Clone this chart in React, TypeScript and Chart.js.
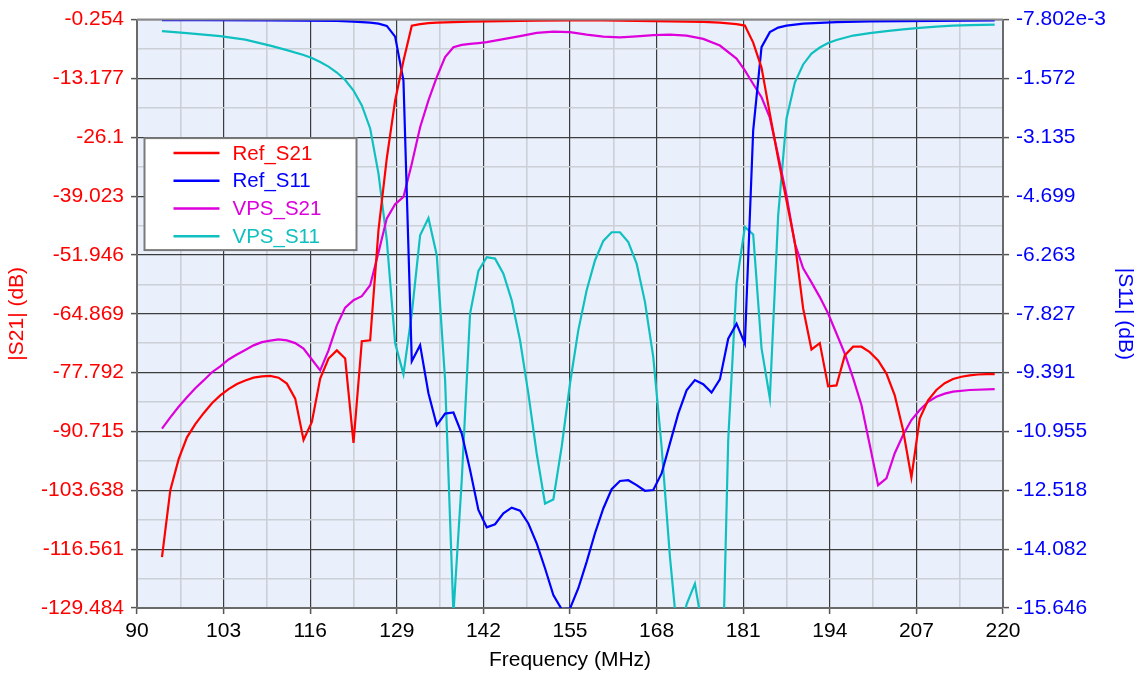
import React, { useEffect, useRef } from 'react';
import { Chart, registerables } from 'chart.js';

Chart.register(...registerables);

// ---------- tick labels ----------
const xTickLabels = ['90', '103', '116', '129', '142', '155', '168', '181', '194', '207', '220'];
const leftTickLabels = ['-0.254', '-13.177', '-26.1', '-39.023', '-51.946', '-64.869', '-77.792', '-90.715', '-103.638', '-116.561', '-129.484'];
const rightTickLabels = ['-7.802e-3', '-1.572', '-3.135', '-4.699', '-6.263', '-7.827', '-9.391', '-10.955', '-12.518', '-14.082', '-15.646'];

const seriesNames = ['Ref_S21', 'Ref_S11', 'VPS_S21', 'VPS_S11'];

// ---------- Ref_S21 (left axis, dB) ----------
const refS21Freq = [93.75, 95, 96.25, 97.5, 98.75, 100, 101.25, 102.5, 103.75, 105, 106.25, 107.5, 108.75, 110, 111.25, 112.5, 113.75, 115, 116.25, 117.5, 118.75, 120, 121.25, 122.5, 123.75, 125, 126.25, 127.5, 128.75, 130, 131.25, 132.5, 133.75, 135, 137.5, 140, 145, 150, 155, 160, 165, 170, 175, 177.5, 180, 181.25, 182.5, 183.75, 185, 186.25, 187.5, 188.75, 190, 191.25, 192.5, 193.75, 195, 196.25, 197.5, 198.75, 200, 201.25, 202.5, 203.75, 205, 206.25, 207.5, 208.75, 210, 211.25, 212.5, 213.75, 215, 216.25, 217.5, 218.75];
const refS21Db = [-118.3, -103.6, -96.8, -92.0, -89.1, -86.7, -84.5, -82.8, -81.4, -80.3, -79.5, -78.9, -78.6, -78.5, -78.9, -80.2, -83.5, -92.6, -88.6, -79.1, -74.7, -72.9, -74.7, -93.2, -70.9, -70.7, -46.5, -30.7, -18.0, -9.3, -1.6, -1.24, -1.02, -0.91, -0.8, -0.69, -0.58, -0.47, -0.43, -0.45, -0.52, -0.63, -0.76, -0.91, -1.24, -1.57, -5.3, -10.8, -20.9, -30.8, -40.0, -49.2, -63.7, -72.7, -71.3, -80.8, -80.6, -74.0, -72.1, -72.1, -73.3, -75.1, -78.0, -82.8, -90.4, -100.8, -87.9, -83.85, -81.6, -80.1, -79.2, -78.7, -78.4, -78.2, -78.1, -78.1];

// ---------- Ref_S11 (right axis, dB) ----------
const refS11Freq = [93.75, 100, 110, 120, 122.5, 125, 126.25, 127.5, 128.75, 130, 131.25, 132.5, 133.75, 135, 136.25, 137.5, 138.75, 140, 141.25, 142.5, 143.75, 145, 146.25, 147.5, 148.75, 150, 151.25, 152.5, 153.75, 155, 156.25, 157.5, 158.75, 160, 161.25, 162.5, 163.75, 165, 166.25, 167.5, 168.75, 170, 171.25, 172.5, 173.75, 175, 176.25, 177.5, 178.75, 180, 181.25, 182.5, 183.75, 185, 186.25, 187.5, 190, 195, 200, 210, 218.75];
const refS11Db = [-0.021, -0.024, -0.029, -0.042, -0.061, -0.088, -0.114, -0.175, -0.46, -1.63, -9.09, -8.66, -9.94, -10.79, -10.48, -10.45, -11.01, -11.98, -13.04, -13.50, -13.42, -13.13, -12.98, -13.06, -13.40, -13.93, -14.59, -15.30, -15.68, -15.66, -15.12, -14.42, -13.66, -13.00, -12.49, -12.27, -12.25, -12.38, -12.53, -12.51, -12.07, -11.27, -10.48, -9.86, -9.59, -9.70, -9.92, -9.57, -8.49, -8.09, -8.62, -2.95, -0.74, -0.34, -0.22, -0.17, -0.114, -0.074, -0.056, -0.040, -0.029];

// ---------- VPS_S21 (left axis, dB) ----------
const vpsS21Freq = [93.75, 95, 96.25, 97.5, 98.75, 100, 101.25, 102.5, 103.75, 105, 106.25, 107.5, 108.75, 110, 111.25, 112.5, 113.75, 115, 116.25, 117.5, 118.75, 120, 121.25, 122.5, 123.75, 125, 126.25, 127.5, 128.75, 130, 131.25, 132.5, 133.75, 135, 136.25, 137.5, 138.75, 140, 141.25, 142.5, 145, 147.5, 150, 152.5, 155, 157.5, 160, 162.5, 165, 167.5, 170, 172.5, 175, 177.5, 180, 181.25, 182.5, 183.75, 185, 186.25, 187.5, 188.75, 190, 191.25, 192.5, 193.75, 195, 196.25, 197.5, 198.75, 200, 201.25, 202.5, 203.75, 205, 206.25, 207.5, 208.75, 210, 211.25, 212.5, 215, 218.75];
const vpsS21Db = [-90.1, -87.6, -85.3, -83.2, -81.2, -79.5, -77.7, -76.4, -74.9, -73.8, -72.8, -71.8, -71.1, -70.75, -70.5, -70.7, -71.3, -72.5, -74.9, -77.3, -72.9, -67.4, -63.5, -61.9, -61.0, -58.6, -51.4, -43.9, -40.8, -39.2, -31.9, -23.9, -18.0, -12.9, -8.5, -6.33, -5.8, -5.6, -5.41, -5.19, -4.53, -3.87, -3.17, -2.89, -3.0, -3.55, -3.98, -4.14, -3.92, -3.65, -3.55, -3.77, -4.49, -5.96, -8.81, -11.4, -14.4, -17.3, -21.8, -30.1, -38.9, -49.4, -54.9, -57.96, -61.2, -64.8, -69.2, -73.6, -79.0, -84.9, -93.7, -102.5, -101.0, -95.5, -91.5, -88.2, -86.0, -84.2, -83.1, -82.4, -81.98, -81.6, -81.4];

// ---------- VPS_S11 (right axis, dB) ----------
const vpsS11Freq = [93.75, 97.5, 102.5, 106.25, 110, 112.5, 115, 116.25, 117.5, 118.75, 120, 121.25, 122.5, 123.75, 125, 126.25, 127.5, 128.75, 130, 131.25, 132.5, 133.75, 135, 136.25, 137.5, 138.75, 140, 141.25, 142.5, 143.75, 145, 146.25, 147.5, 148.75, 150, 151.25, 152.5, 153.75, 155, 156.25, 157.5, 158.75, 160, 161.25, 162.5, 163.75, 165, 166.25, 167.5, 168.75, 170, 171.25, 172.5, 173.75, 175, 176.25, 177.5, 178.75, 180, 181.25, 182.5, 183.75, 185, 186.25, 187.5, 188.75, 190, 191.25, 192.5, 193.75, 195, 197.5, 200, 202.5, 205, 207.5, 210, 212.5, 215, 218.75];
const vpsS11Db = [-0.313, -0.366, -0.446, -0.539, -0.698, -0.818, -0.950, -1.03, -1.136, -1.256, -1.415, -1.614, -1.893, -2.29, -2.90, -4.10, -5.87, -8.61, -9.43, -7.82, -5.74, -5.28, -6.27, -9.59, -15.8, -12.25, -7.82, -6.69, -6.32, -6.36, -6.76, -7.47, -8.53, -9.95, -11.54, -12.87, -12.76, -11.36, -9.68, -8.26, -7.20, -6.41, -5.89, -5.66, -5.66, -5.92, -6.49, -7.51, -8.98, -11.36, -14.28, -16.6, -15.55, -15.0, -16.3, -19.0, -20.3, -11.18, -7.02, -5.52, -5.72, -8.74, -10.07, -5.21, -2.64, -1.68, -1.20, -0.91, -0.75, -0.63, -0.55, -0.432, -0.366, -0.313, -0.268, -0.226, -0.194, -0.167, -0.154, -0.140];

// ---------- styling ----------
const FONT = "'Liberation Sans', Arial, Helvetica, sans-serif";
const COLORS = ['#FF0000', '#0000FF', '#DD00DD', '#10C0C0'];
const MAJOR_GRID = '#3c3c3c';
const MINOR_GRID = '#cbcfd6';
const PLOT_BG = '#EAF0FB';

const majorMinor = (labels: string[]) => {
  const major = labels.map((s) => parseFloat(s));
  const out: number[] = [];
  for (let i = 0; i < major.length; i++) {
    out.push(major[i]);
    if (i < major.length - 1) out.push((major[i] + major[i + 1]) / 2);
  }
  return out;
};

const toPoints = (xs: number[], ys: number[]) => xs.map((x, i) => ({ x, y: ys[i] }));

export default function App() {
  const ref = useRef<HTMLCanvasElement | null>(null);

  useEffect(() => {
    if (!ref.current) return;
    const xVals = majorMinor(xTickLabels);
    const lVals = majorMinor(leftTickLabels);
    const rVals = majorMinor(rightTickLabels);

    const gridOpts = (onArea: boolean) => ({
      drawOnChartArea: onArea,
      color: (c: any) => (c.index % 2 === 0 ? MAJOR_GRID : MINOR_GRID),
      lineWidth: (c: any) => (c.index % 2 === 0 ? 1.2 : 1.6),
      tickColor: (c: any) => (c.index % 2 === 0 ? '#555555' : 'rgba(0,0,0,0)'),
      tickLength: 6,
      tickWidth: 1.5,
    });

    const bgPlugin = {
      id: 'plotBg',
      beforeDraw(chart: any) {
        const { ctx, chartArea: a } = chart;
        ctx.save();
        ctx.fillStyle = '#ffffff';
        ctx.fillRect(0, 0, chart.width, chart.height);
        ctx.fillStyle = PLOT_BG;
        ctx.fillRect(a.left, a.top, a.right - a.left, a.bottom - a.top);
        ctx.restore();
      },
      afterDatasetsDraw(chart: any) {
        const { ctx, chartArea: a } = chart;
        ctx.save();
        // top border
        ctx.strokeStyle = '#8a8a8a';
        ctx.lineWidth = 2;
        ctx.beginPath();
        ctx.moveTo(a.left, a.top);
        ctx.lineTo(a.right, a.top);
        ctx.stroke();
        // legend box
        const bx = a.left + 7.5;
        const by = a.top + 118.5;
        const bw = 212;
        const bh = 112;
        ctx.fillStyle = '#ffffff';
        ctx.fillRect(bx, by, bw, bh);
        ctx.strokeStyle = '#7a7a7a';
        ctx.lineWidth = 2;
        ctx.strokeRect(bx, by, bw, bh);
        ctx.font = `20.5px ${FONT}`;
        ctx.textBaseline = 'middle';
        ctx.textAlign = 'left';
        chart.data.datasets.forEach((ds: any, i: number) => {
          const y = by + 15 + i * 27.7;
          ctx.strokeStyle = ds.borderColor;
          ctx.lineWidth = 2.5;
          ctx.beginPath();
          ctx.moveTo(bx + 29, y);
          ctx.lineTo(bx + 75, y);
          ctx.stroke();
          ctx.fillStyle = ds.borderColor;
          ctx.fillText(ds.label, bx + 88, y + 1);
        });
        ctx.restore();
      },
    };

    const tickFont = { family: FONT, size: 21 };

    const chart = new Chart(ref.current, {
      type: 'line',
      data: {
        datasets: [
          { label: seriesNames[0], data: toPoints(refS21Freq, refS21Db), yAxisID: 'y', borderColor: COLORS[0], backgroundColor: COLORS[0] },
          { label: seriesNames[1], data: toPoints(refS11Freq, refS11Db), yAxisID: 'y1', borderColor: COLORS[1], backgroundColor: COLORS[1] },
          { label: seriesNames[2], data: toPoints(vpsS21Freq, vpsS21Db), yAxisID: 'y', borderColor: COLORS[2], backgroundColor: COLORS[2] },
          { label: seriesNames[3], data: toPoints(vpsS11Freq, vpsS11Db), yAxisID: 'y1', borderColor: COLORS[3], backgroundColor: COLORS[3] },
        ],
      },
      options: {
        responsive: false,
        animation: false,
        devicePixelRatio: 1,
        layout: { padding: { top: 19, left: 0, right: 0, bottom: 0 } },
        elements: {
          point: { radius: 0 },
          line: { borderWidth: 2.2, tension: 0 },
        },
        plugins: {
          legend: { display: false },
          tooltip: { enabled: false },
          title: { display: false },
        },
        scales: {
          x: {
            type: 'linear',
            min: parseFloat(xTickLabels[0]),
            max: parseFloat(xTickLabels[xTickLabels.length - 1]),
            afterBuildTicks: (s: any) => { s.ticks = xVals.map((v) => ({ value: v })); },
            afterFit: (s: any) => { s.height = 68; },
            ticks: {
              autoSkip: false,
              maxRotation: 0,
              color: '#000000',
              font: tickFont,
              padding: 5,
              callback: (_v: any, i: number) => (i % 2 === 0 ? xTickLabels[i / 2] : ''),
            },
            grid: gridOpts(true),
            border: { display: true, color: '#6a6a6a', width: 2 },
            title: { display: true, text: 'Frequency (MHz)', color: '#000000', font: tickFont, padding: { top: 0, bottom: 3 } },
          },
          y: {
            type: 'linear',
            position: 'left',
            min: parseFloat(leftTickLabels[leftTickLabels.length - 1]),
            max: parseFloat(leftTickLabels[0]),
            afterBuildTicks: (s: any) => { s.ticks = lVals.slice().reverse().map((v) => ({ value: v })); },
            afterFit: (s: any) => { s.width = 137; },
            ticks: {
              autoSkip: false,
              color: '#FF0000',
              font: tickFont,
              padding: 7,
              callback: (_v: any, i: number) => {
                const n = lVals.length - 1 - i;
                return n % 2 === 0 ? leftTickLabels[n / 2] : '';
              },
            },
            grid: gridOpts(true),
            border: { display: true, color: '#6a6a6a', width: 2 },
            title: { display: true, text: '|S21| (dB)', color: '#FF0000', font: tickFont, padding: { top: 5, bottom: 0 } },
          },
          y1: {
            type: 'linear',
            position: 'right',
            min: parseFloat(rightTickLabels[rightTickLabels.length - 1]),
            max: parseFloat(rightTickLabels[0]),
            afterBuildTicks: (s: any) => { s.ticks = rVals.slice().reverse().map((v) => ({ value: v })); },
            afterFit: (s: any) => { s.width = 139; },
            ticks: {
              autoSkip: false,
              color: '#0000FF',
              font: tickFont,
              padding: 7,
              callback: (_v: any, i: number) => {
                const n = rVals.length - 1 - i;
                return n % 2 === 0 ? rightTickLabels[n / 2] : '';
              },
            },
            grid: gridOpts(false),
            border: { display: true, color: '#6a6a6a', width: 2 },
            title: { display: true, text: '|S11| (dB)', color: '#0000FF', font: tickFont, padding: { top: 5, bottom: 5 } },
          },
        },
      } as any,
      plugins: [bgPlugin],
    });
    return () => chart.destroy();
  }, []);

  return (
    <div style={{ position: 'absolute', left: 0, top: 0, width: 1142, height: 676, background: '#ffffff' }}>
      <canvas ref={ref} width={1142} height={676} style={{ display: 'block' }} />
    </div>
  );
}
